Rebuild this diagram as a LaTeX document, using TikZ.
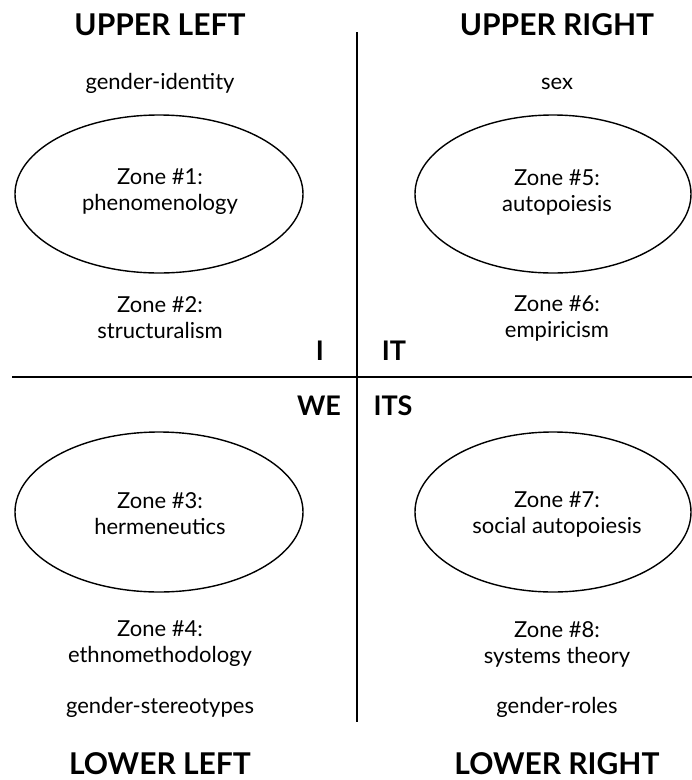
\documentclass[tikz,border=0pt]{standalone}
\usepackage{fontspec}
\setmainfont{Lato}
\begin{document}
\begin{tikzpicture}[x=1pt,y=-1pt,
  body/.style={font=\fontsize{22}{26}\selectfont, align=center, inner sep=0pt},
  head/.style={font=\fontsize{30}{32}\selectfont\bfseries, inner sep=0pt, anchor=base},
  quad/.style={font=\fontsize{27}{30}\selectfont\bfseries, inner sep=0pt, anchor=base},
  zone/.style={draw, line width=1.4pt},
  axis/.style={line width=1.6pt}]
\useasboundingbox (0,0) rectangle (692,780);
% axes
\coordinate (vt) at (357,32);
\coordinate (vb) at (357,722);
\coordinate (hl) at (12,377);
\coordinate (hr) at (692,377);
\draw[axis] (vt) -- (vb);
\draw[axis] (hl) -- (hr);
% headings
\node[head] (ul) at (160,35) {UPPER LEFT};
\node[head] (ur) at (557,35) {UPPER RIGHT};
\node[head] (ll) at (160,774) {LOWER LEFT};
\node[head] (lr) at (557,774) {LOWER RIGHT};
% quadrant labels
\node[quad] (qi) at (320,360) {I};
\node[quad] (qit) at (394,360) {IT};
\node[quad] (qwe) at (319,415) {WE};
\node[quad] (qits) at (393,415) {ITS};
% single line labels
\node[body, anchor=base] (gi) at (160,89) {gender-identity};
\node[body, anchor=base] (sx) at (557,89) {sex};
\node[body, anchor=base] (gs) at (160,713) {gender-stereotypes};
\node[body, anchor=base] (gr) at (557,713) {gender-roles};
% ellipses
\draw[zone] (159,194) ellipse [x radius=144, y radius=79];
\draw[zone] (553,194) ellipse [x radius=138, y radius=79];
\draw[zone] (159,512) ellipse [x radius=144, y radius=80];
\draw[zone] (553,512) ellipse [x radius=138, y radius=80];
% zone texts
\node[body] (z1) at (160,192) {Zone \#1:\\phenomenology};
\node[body] (z5) at (557,192) {Zone \#5:\\autopoiesis};
\node[body] (z2) at (160,318) {Zone \#2:\\structuralism};
\node[body] (z6) at (557,318) {Zone \#6:\\empiricism};
\node[body] (z3) at (160,514) {Zone \#3:\\hermeneutics};
\node[body] (z7) at (557,514) {Zone \#7:\\social autopoiesis};
\node[body] (z4) at (160,644) {Zone \#4:\\ethnomethodology};
\node[body] (z8) at (557,644) {Zone \#8:\\systems theory};
\end{tikzpicture}
\end{document}
